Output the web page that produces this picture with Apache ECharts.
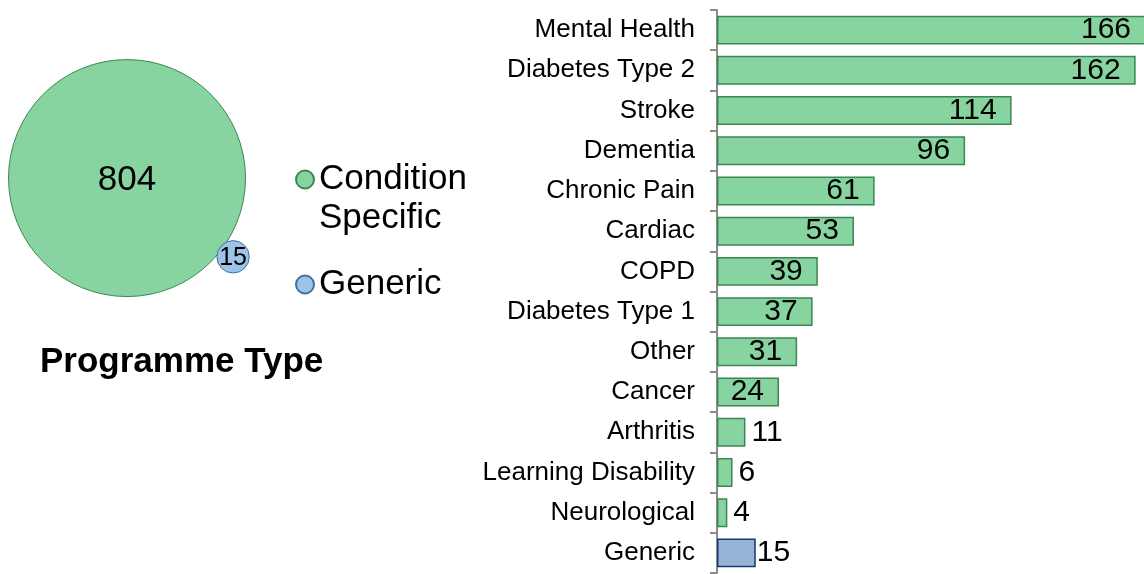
<!DOCTYPE html>
<html>
<head>
<meta charset="utf-8">
<script src="https://cdn.jsdelivr.net/npm/echarts@6/dist/echarts.min.js"></script>
<style>
html,body{margin:0;padding:0;background:#fff;}
#chart{width:1144px;height:574px;}
</style>
</head>
<body>
<div id="chart"></div>
<script>
// ---- data ----
var categories = ['Mental Health','Diabetes Type 2','Stroke','Dementia','Chronic Pain','Cardiac','COPD','Diabetes Type 1','Other','Cancer','Arthritis','Learning Disability','Neurological','Generic'];
var counts = [166,162,114,96,61,53,39,37,31,24,11,6,4,15];
var typeNames = ['Condition Specific','Generic'];
var typeTotals = [804,15];
var bubbleX = [5.0,9.42];
var bubbleY = [5.08,1.80];

var GREEN = '#88D4A0', GREEN_BORDER = '#3A8753';
var BLUE_BUBBLE = '#9DC3E6', BLUE_BUBBLE_BORDER = '#41719C';
var BLUE_BAR = '#95B3D7', BLUE_BAR_BORDER = '#1F3864';
var FONT = 'Liberation Sans, Arial, sans-serif';

var maxTotal = Math.max.apply(null, typeTotals);
function bubbleSize(v){ return 237 * Math.sqrt(v / maxTotal); }

var barData = counts.map(function(v, i){
  var isGeneric = categories[i] === 'Generic';
  var inside = v >= 20;
  return {
    value: v,
    itemStyle: {
      color: isGeneric ? BLUE_BAR : GREEN,
      borderColor: isGeneric ? BLUE_BAR_BORDER : GREEN_BORDER,
      borderWidth: 1.5
    },
    label: {
      position: inside ? 'insideRight' : 'right',
      distance: inside ? 15 : (isGeneric ? 1 : 6)
    }
  };
});

var bubbleSeries = typeNames.map(function(n, i){
  var c = i === 0 ? GREEN : BLUE_BUBBLE;
  var b = i === 0 ? GREEN_BORDER : BLUE_BUBBLE_BORDER;
  return {
    name: n,
    type: 'scatter',
    xAxisIndex: 1,
    yAxisIndex: 1,
    data: [[bubbleX[i], bubbleY[i], typeTotals[i]]],
    symbol: 'circle',
    symbolSize: function(d){ return bubbleSize(d[2]); },
    itemStyle: { color: c, borderColor: b, borderWidth: 1, opacity: 1 },
    label: {
      show: true,
      position: 'inside',
      formatter: function(p){ return p.value[2]; },
      color: '#000',
      fontFamily: FONT,
      fontSize: i === 0 ? 35 : 25,
      offset: i === 0 ? [0, 2] : [0, 1]
    },
    z: i === 0 ? 2 : 3
  };
});

var chart = echarts.init(document.getElementById('chart'), null, {renderer: 'canvas'});
chart.setOption({
  animation: false,
  backgroundColor: '#fff',
  title: {
    text: 'Programme Type',
    left: 40,
    top: 343,
    padding: 0,
    textStyle: { fontFamily: FONT, fontSize: 35, fontWeight: 'bold', color: '#000', lineHeight: 38 }
  },
  legend: [
    {
      data: [{name: 'Condition Specific', icon: 'circle'}],
      orient: 'vertical',
      left: 295,
      top: 121,
      padding: 0,
      itemWidth: 18,
      itemHeight: 18,
      formatter: function(){ return '\nCondition\nSpecific'; },
      textStyle: { fontFamily: FONT, fontSize: 35, color: '#000', lineHeight: 39 }
    },
    {
      data: [{name: 'Generic', icon: 'circle'}],
      orient: 'vertical',
      left: 295,
      top: 265,
      padding: 0,
      itemWidth: 18,
      itemHeight: 18,
      textStyle: { fontFamily: FONT, fontSize: 35, color: '#000', lineHeight: 39 }
    }
  ],
  grid: [
    { left: 717, width: 429, top: 10, bottom: 1, containLabel: false, outerBoundsMode: 'none' },
    { left: 7, top: 60, width: 240, height: 240, containLabel: false, outerBoundsMode: 'none' }
  ],
  xAxis: [
    { type: 'value', gridIndex: 0, min: 0, max: 166, show: false },
    { type: 'value', gridIndex: 1, min: 0, max: 10, show: false }
  ],
  yAxis: [
    {
      type: 'category',
      gridIndex: 0,
      data: categories,
      inverse: true,
      axisLine: { show: true, lineStyle: { color: '#8C8C8C', width: 2 } },
      axisTick: { show: true, length: 7, lineStyle: { color: '#8C8C8C', width: 2 } },
      axisLabel: { fontFamily: FONT, fontSize: 26, color: '#000', margin: 22 },
      splitLine: { show: false }
    },
    { type: 'value', gridIndex: 1, min: 0, max: 10, show: false }
  ],
  series: [
    {
      name: 'Programmes',
      type: 'bar',
      xAxisIndex: 0,
      yAxisIndex: 0,
      data: barData,
      barCategoryGap: '28%',
      label: {
        show: true,
        color: '#000',
        fontFamily: FONT,
        fontSize: 30
      }
    }
  ].concat(bubbleSeries)
});
</script>
</body>
</html>
